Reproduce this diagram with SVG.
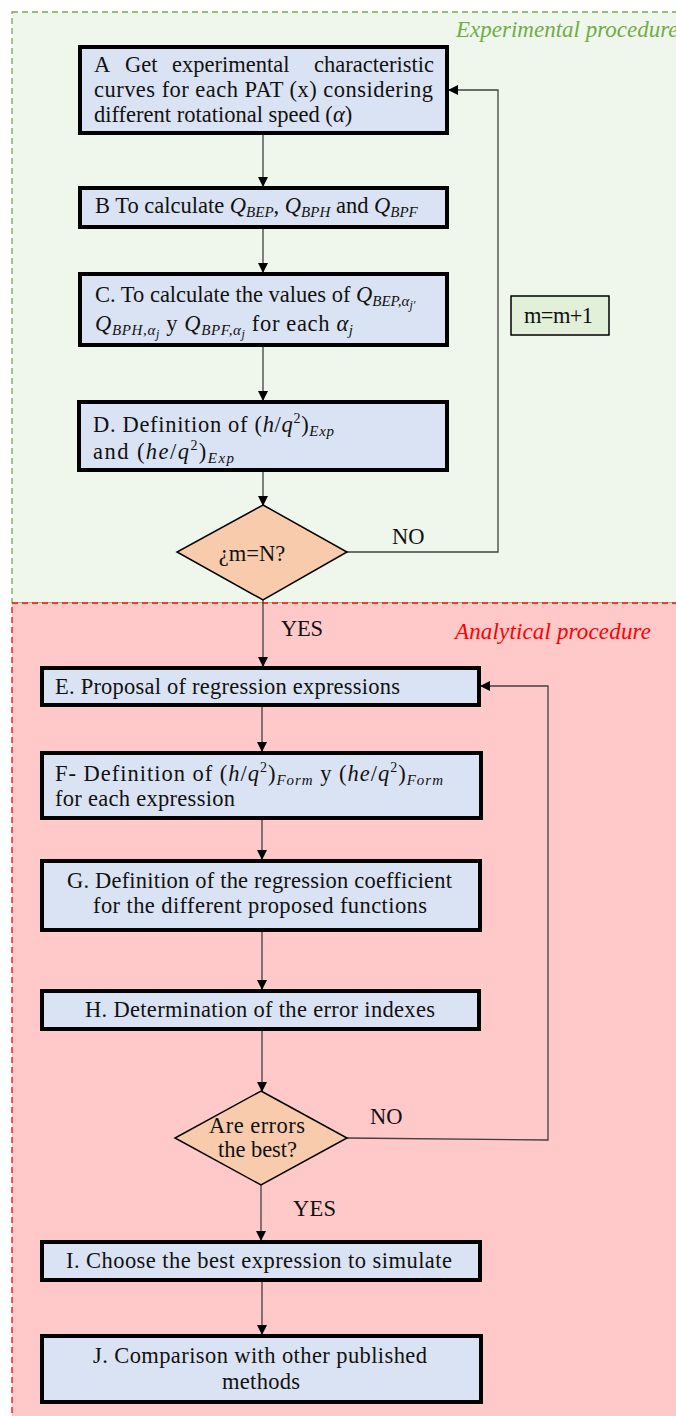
<svg xmlns="http://www.w3.org/2000/svg" width="676" height="1416" viewBox="0 0 676 1416">
<style>
.t{font-family:"Liberation Serif","Times New Roman",serif;font-size:22.5px;fill:#111}
.m{font-style:italic}
.s{font-size:15px;font-style:italic}
.ss{font-size:12px;font-style:italic}
.p{font-size:14px}
.box{fill:#dae3f3;stroke:#000;stroke-width:4}
.dia{fill:#f8cbad;stroke:#000;stroke-width:1.5}
.ln{fill:none;stroke:#404040;stroke-width:1.3}
.title{font-family:"Liberation Serif","Times New Roman",serif;font-size:23px;font-style:italic}
</style>
<defs>
<marker id="ah" markerUnits="userSpaceOnUse" markerWidth="10" markerHeight="11" refX="9" refY="5" orient="auto">
<path d="M0,0 L10,5 L0,10 Z" fill="#000"/>
</marker>
</defs>
<g id="regions">
<rect x="12" y="12" width="680" height="591" fill="#eff6ec" stroke="#70ad47" stroke-width="1.3" stroke-dasharray="6,4"/>
<rect x="12" y="603" width="680" height="830" fill="#ffc9c9" stroke="#ff0000" stroke-width="1.3" stroke-dasharray="6,4"/>
<text class="title" x="456" y="37" fill="#70ad47">Experimental procedure</text>
<text class="title" x="455" y="639" fill="#ff0000" textLength="196">Analytical procedure</text>
</g>
<g id="connectors">
<line class="ln" x1="263" y1="135" x2="263" y2="186" marker-end="url(#ah)"/>
<line class="ln" x1="263" y1="229" x2="263" y2="272" marker-end="url(#ah)"/>
<line class="ln" x1="263" y1="347" x2="263" y2="400" marker-end="url(#ah)"/>
<line class="ln" x1="263" y1="472" x2="263" y2="505" marker-end="url(#ah)"/>
<polyline class="ln" points="347,552 498,552 498,90 449,90" marker-end="url(#ah)"/>
<line class="ln" x1="263" y1="600" x2="263" y2="666" marker-end="url(#ah)"/>
<line class="ln" x1="262" y1="707" x2="262" y2="751" marker-end="url(#ah)"/>
<line class="ln" x1="262" y1="820" x2="262" y2="859" marker-end="url(#ah)"/>
<line class="ln" x1="262" y1="932" x2="262" y2="989" marker-end="url(#ah)"/>
<line class="ln" x1="262" y1="1031" x2="262" y2="1091" marker-end="url(#ah)"/>
<polyline class="ln" points="347,1138 548,1140 548,686 481,686" marker-end="url(#ah)"/>
<line class="ln" x1="261" y1="1185" x2="261" y2="1240" marker-end="url(#ah)"/>
<line class="ln" x1="262" y1="1282" x2="262" y2="1334" marker-end="url(#ah)"/>
<text class="t" x="392" y="544">NO</text>
<text class="t" x="281" y="636" textLength="42">YES</text>
<text class="t" x="370" y="1124">NO</text>
<text class="t" x="293" y="1216" textLength="43">YES</text>
</g>
<g id="nodeA">
<rect class="box" x="80" y="47" width="367" height="86" stroke-width="4.5"/>
<text class="t" y="72"><tspan x="94">A</tspan><tspan x="125">Get</tspan><tspan x="172">experimental</tspan><tspan x="434" text-anchor="end">characteristic</tspan></text>
<text class="t" x="94" y="97" textLength="339">curves for each PAT (x) considering</text>
<text class="t" x="94" y="122">different rotational speed (<tspan class="m">α</tspan>)</text>
</g>
<g id="nodeB">
<rect class="box" x="80" y="188" width="367" height="39"/>
<text class="t" x="95" y="213">B To calculate <tspan class="m">Q</tspan><tspan class="s" dy="4">BEP</tspan><tspan dy="-4">, </tspan><tspan class="m">Q</tspan><tspan class="s" dy="4">BPH</tspan><tspan dy="-4"> and </tspan><tspan class="m">Q</tspan><tspan class="s" dy="4">BPF</tspan></text>
</g>
<g id="nodeC">
<rect class="box" x="80" y="274" width="367" height="71"/>
<text class="t" x="95" y="302">C. To calculate the values of <tspan class="m">Q</tspan><tspan class="s" dy="4">BEP,α</tspan><tspan class="ss" dy="3">j′</tspan></text>
<text class="t" x="95" y="331" textLength="258"><tspan class="m">Q</tspan><tspan class="s" dy="4">BPH,α</tspan><tspan class="ss" dy="3">j</tspan><tspan dy="-7"> y </tspan><tspan class="m">Q</tspan><tspan class="s" dy="4">BPF,α</tspan><tspan class="ss" dy="3">j</tspan><tspan dy="-7"> for each </tspan><tspan class="m">α</tspan><tspan class="s" dy="4">j</tspan></text>
</g>
<g id="nodeD">
<rect class="box" x="79" y="402" width="368" height="68"/>
<text class="t" x="93" y="432" textLength="241">D. Definition of (<tspan class="m">h</tspan>/<tspan class="m">q</tspan><tspan class="p" dy="-9">2</tspan><tspan dy="9">)</tspan><tspan class="s" dy="4">Exp</tspan></text>
<text class="t" x="93" y="459" textLength="141">and (<tspan class="m">he</tspan>/<tspan class="m">q</tspan><tspan class="p" dy="-9">2</tspan><tspan dy="9">)</tspan><tspan class="s" dy="4">Exp</tspan></text>
</g>
<g id="decision1">
<polygon class="dia" points="263,505 347,552 263,600 177,552"/>
<text class="t" x="252" y="561" text-anchor="middle">¿m=N?</text>
</g>
<g id="nodeM">
<rect x="511" y="296" width="98" height="39" fill="#e2efd9" stroke="#000" stroke-width="1.5"/>
<text class="t" x="524" y="323" textLength="69">m=m+1</text>
</g>
<g id="nodeE">
<rect class="box" x="42" y="668" width="437" height="37"/>
<text class="t" x="55" y="694" textLength="345">E. Proposal of regression expressions</text>
</g>
<g id="nodeF">
<rect class="box" x="42" y="753" width="439" height="65"/>
<text class="t" x="55" y="781" textLength="388">F- Definition of (<tspan class="m">h</tspan>/<tspan class="m">q</tspan><tspan class="p" dy="-9">2</tspan><tspan dy="9">)</tspan><tspan class="s" dy="4">Form</tspan><tspan dy="-4"> y (</tspan><tspan class="m">he</tspan>/<tspan class="m">q</tspan><tspan class="p" dy="-9">2</tspan><tspan dy="9">)</tspan><tspan class="s" dy="4">Form</tspan></text>
<text class="t" x="55" y="806" textLength="180">for each expression</text>
</g>
<g id="nodeG">
<rect class="box" x="42" y="861" width="438" height="69"/>
<text class="t" x="67" y="888" textLength="385">G. Definition of the regression coefficient</text>
<text class="t" x="93" y="913" textLength="334">for the different proposed functions</text>
</g>
<g id="nodeH">
<rect class="box" x="42" y="991" width="437" height="38"/>
<text class="t" x="85" y="1017" textLength="350">H. Determination of the error indexes</text>
</g>
<g id="decision2">
<polygon class="dia" points="261,1091 347,1138 261,1185 175,1138"/>
<text class="t" x="209" y="1133" textLength="96">Are errors</text>
<text class="t" x="218" y="1157" textLength="79">the best?</text>
</g>
<g id="nodeI">
<rect class="box" x="42" y="1242" width="438" height="38"/>
<text class="t" x="66" y="1268" textLength="386">I. Choose the best  expression to simulate</text>
</g>
<g id="nodeJ">
<rect class="box" x="42" y="1336" width="439" height="66"/>
<text class="t" x="93" y="1363" textLength="334">J. Comparison with other published</text>
<text class="t" x="222" y="1389" textLength="78">methods</text>
</g>
</svg>
